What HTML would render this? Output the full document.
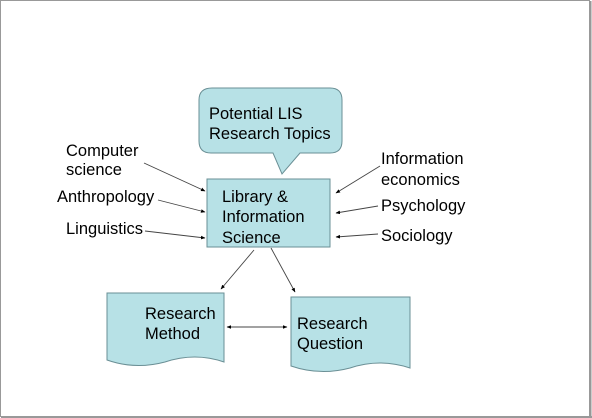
<!DOCTYPE html>
<html><head><meta charset="utf-8"><style>
html,body{margin:0;padding:0;background:#fff}
svg{display:block}
text{font-family:"Liberation Sans",Arial,sans-serif;font-size:16.5px;fill:#000}
</style></head><body>
<svg width="592" height="418" viewBox="0 0 592 418" xmlns="http://www.w3.org/2000/svg">
<defs>
<marker id="a" viewBox="0 0 10 10" refX="9" refY="5" markerWidth="5" markerHeight="5" orient="auto-start-reverse">
<path d="M0,1 L10,5 L0,9 z" fill="#000"/></marker>
</defs>
<rect x="0" y="0" width="592" height="418" fill="#fff"/>
<rect x="0.5" y="0.5" width="589" height="416" fill="none" stroke="#999" stroke-width="1"/>
<line x1="590.5" y1="1" x2="590.5" y2="418" stroke="#999" stroke-width="2"/>
<line x1="1" y1="417" x2="592" y2="417" stroke="#999" stroke-width="2"/>

<path d="M212,88 H330 Q342,88 342,100 V141 Q342,153 330,153 H300 L282,174 L273,153 H211 Q199,153 199,141 V100 Q199,88 212,88 Z" fill="#b7e1e6" stroke="#6a8f95" stroke-width="1"/>
<text x="209" y="119">Potential LIS</text>
<text x="209" y="139">Research Topics</text>

<rect x="207" y="179" width="123" height="68" fill="#b7e1e6" stroke="#6a8f95" stroke-width="1"/>
<text x="222" y="202">Library &amp;</text>
<text x="222" y="222">Information</text>
<text x="222" y="243">Science</text>

<path d="M107,293 H224 V362 Q195,352 165,362 Q135,370 107,360 Z" fill="#b7e1e6" stroke="#6a8f95" stroke-width="1"/>
<text x="145" y="319">Research</text>
<text x="145" y="339">Method</text>
<path d="M291,297 H410 V368 Q380,358 350,368 Q320,376 291,366 Z" fill="#b7e1e6" stroke="#6a8f95" stroke-width="1"/>
<text x="297" y="329">Research</text>
<text x="297" y="349">Question</text>

<text x="66" y="156">Computer</text>
<text x="66" y="175">science</text>
<text x="57" y="202">Anthropology</text>
<text x="66" y="234">Linguistics</text>
<text x="381" y="164">Information</text>
<text x="381" y="185">economics</text>
<text x="381" y="211">Psychology</text>
<text x="381" y="241">Sociology</text>

<g stroke="#444" stroke-width="0.9" fill="none" marker-end="url(#a)">
<line x1="144" y1="163" x2="205" y2="191"/>
<line x1="158" y1="200" x2="205" y2="212"/>
<line x1="145" y1="231" x2="205" y2="238"/>
<line x1="380" y1="166" x2="336" y2="193"/>
<line x1="378" y1="206" x2="336" y2="213"/>
<line x1="378" y1="234" x2="336" y2="237"/>
<line x1="254" y1="250" x2="221" y2="289"/>
<line x1="271" y1="248" x2="295" y2="292"/>
<line x1="227" y1="327" x2="287" y2="327" marker-start="url(#a)"/>
</g>
</svg>
</body></html>
